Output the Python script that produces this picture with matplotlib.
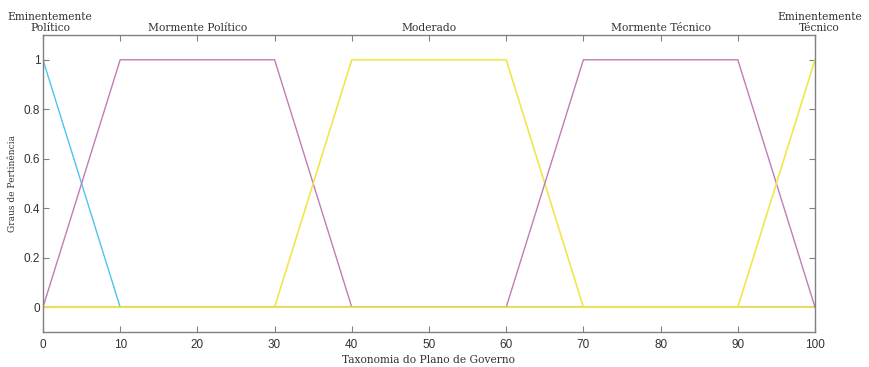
import matplotlib
matplotlib.use("Agg")
import matplotlib.pyplot as plt

# funcoes de pertinencia (pontos de quebra)
x_pts = [0, 10, 30, 40, 60, 70, 90, 100]
mf_emin_politico = [1, 0, 0, 0, 0, 0, 0, 0]
mf_morm_politico = [0, 1, 1, 0, 0, 0, 0, 0]
mf_moderado = [0, 0, 0, 1, 1, 0, 0, 0]
mf_morm_tecnico = [0, 0, 0, 0, 0, 1, 1, 0]
mf_emin_tecnico = [0, 0, 0, 0, 0, 0, 0, 1]

rotulos_pos = [0.9, 20, 50, 80, 100.6]
rotulos = ["Eminentemente\nPolítico", "Mormente Político", "Moderado",
           "Mormente Técnico", "Eminentemente\nTécnico"]

ciano = "#4cc4ee"
roxo = "#c07db5"
amarelo = "#f2e64a"

fig = plt.figure(figsize=(8.7, 3.67), dpi=100)
ax = fig.add_axes([0.0494, 0.0954, 0.8874, 0.8092])

ax.plot(x_pts, mf_emin_politico, color=ciano, lw=1)
ax.plot(x_pts, mf_morm_politico, color=roxo, lw=1)
ax.plot(x_pts, mf_moderado, color=amarelo, lw=1.2)
ax.plot(x_pts, mf_morm_tecnico, color=roxo, lw=1)
ax.plot(x_pts, mf_emin_tecnico, color=amarelo, lw=1.2)

ax.set_xlim(0, 100)
ax.set_ylim(-0.1, 1.1)
ax.set_xticks(range(0, 101, 10))
ax.set_yticks([0, 0.2, 0.4, 0.6, 0.8, 1])
ax.set_yticklabels(["0", "0.2", "0.4", "0.6", "0.8", "1"])

cinza = "#808080"
for s in ax.spines.values():
    s.set_color(cinza)
    s.set_linewidth(1)
ax.tick_params(direction="in", length=4, color=cinza, labelcolor="#333333",
               labelsize=8.5, top=True, right=True)
ax.tick_params(axis="x", pad=5)
ax.tick_params(axis="y", pad=2)
for lbl in ax.get_xticklabels() + ax.get_yticklabels():
    lbl.set_family("Liberation Sans")

ax.set_xlabel("Taxonomia do Plano de Governo", family="DejaVu Serif",
              fontsize=7.7, color="#333333", labelpad=3)
ax.set_ylabel("Graus de Pertinência", family="DejaVu Serif",
              fontsize=6.5, color="#333333", labelpad=5)

for xp, txt in zip(rotulos_pos, rotulos):
    ax.text(xp, 1.11, txt, ha="center", va="bottom", family="DejaVu Serif",
            fontsize=7.7, color="#333333", linespacing=1.05,
            transform=ax.transData)

fig.savefig("out.png", dpi=100)
